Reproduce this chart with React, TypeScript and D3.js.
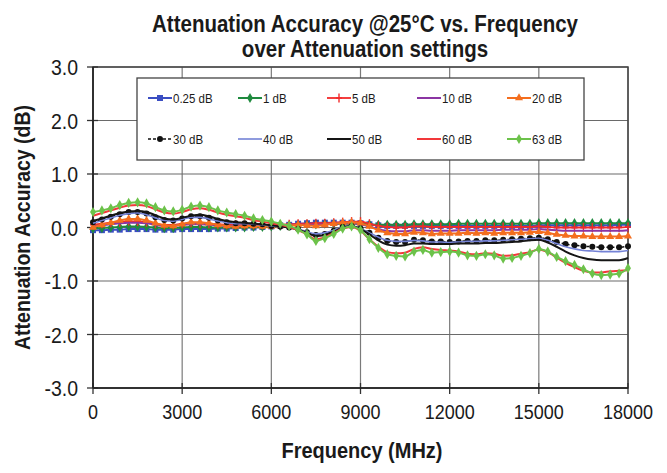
import React from "react";
import * as d3 from "d3";

const TITLE_LINES = ["Attenuation Accuracy @25°C vs. Frequency", "over Attenuation settings"];
const X_TITLE = "Frequency (MHz)";
const Y_TITLE = "Attenuation Accuracy (dB)";
const X_TICKS = [0, 3000, 6000, 9000, 12000, 15000, 18000];
const Y_TICKS = [3, 2, 1, 0, -1, -2, -3];

const FREQ = [
  0, 300, 600, 900, 1200, 1500, 1800, 2100, 2400, 2700, 3000, 3300, 3600, 3900, 4200, 4500, 4800, 5100, 5400, 5700,
  6000, 6300, 6600, 6900, 7200, 7500, 7800, 8100, 8400, 8700, 9000, 9300, 9600, 9900, 10200, 10500, 10800, 11100,
  11400, 11700, 12000, 12300, 12600, 12900, 13200, 13500, 13800, 14100, 14400, 14700, 15000, 15300, 15600, 15900,
  16200, 16500, 16800, 17100, 17400, 17700, 18000,
];

const S_025 = [
  -0.05, -0.05, -0.04, -0.04, -0.03, -0.03, -0.03, -0.04, -0.04, -0.04, -0.03, -0.03, -0.03, -0.03, -0.02, -0.02, -0.01, 0.0, 0.0, 0.01,
  0.02, 0.04, 0.05, 0.07, 0.08, 0.09, 0.09, 0.09, 0.09, 0.09, 0.08, 0.06, 0.04, 0.03, 0.03, 0.03, 0.03, 0.03, 0.03, 0.03,
  0.03, 0.03, 0.03, 0.03, 0.03, 0.03, 0.03, 0.03, 0.03, 0.03, 0.04, 0.04, 0.04, 0.04, 0.04, 0.04, 0.04, 0.04, 0.04, 0.05, 0.05,
];
const S_1 = [
  -0.02, -0.01, 0.0, 0.01, 0.02, 0.02, 0.01, 0.0, -0.01, -0.01, 0.0, 0.01, 0.01, 0.0, 0.0, 0.0, 0.0, 0.0, 0.01, 0.01,
  0.02, 0.03, 0.04, 0.05, 0.06, 0.06, 0.07, 0.07, 0.07, 0.07, 0.07, 0.06, 0.05, 0.05, 0.05, 0.05, 0.06, 0.06, 0.06, 0.06,
  0.06, 0.07, 0.07, 0.07, 0.07, 0.07, 0.07, 0.07, 0.07, 0.07, 0.08, 0.08, 0.08, 0.08, 0.08, 0.08, 0.08, 0.08, 0.08, 0.08, 0.08,
];
const S_5 = [
  0.05, 0.07, 0.09, 0.1, 0.12, 0.11, 0.1, 0.07, 0.05, 0.05, 0.07, 0.09, 0.08, 0.07, 0.06, 0.05, 0.05, 0.05, 0.05, 0.05,
  0.05, 0.05, 0.06, 0.07, 0.07, 0.08, 0.08, 0.09, 0.1, 0.11, 0.11, 0.07, 0.03, 0.01, 0.0, 0.0, 0.02, 0.02, 0.01, 0.01,
  0.01, 0.01, 0.01, 0.01, 0.01, 0.01, 0.01, 0.01, 0.01, 0.01, 0.02, 0.01, 0.0, 0.0, 0.0, 0.0, 0.0, 0.0, 0.0, 0.0, 0.01,
];
const S_10 = [
  0.02, 0.04, 0.06, 0.08, 0.09, 0.09, 0.08, 0.05, 0.03, 0.03, 0.05, 0.06, 0.06, 0.05, 0.04, 0.03, 0.03, 0.03, 0.03, 0.03,
  0.03, 0.04, 0.05, 0.05, 0.05, 0.05, 0.06, 0.07, 0.08, 0.08, 0.06, 0.02, -0.03, -0.06, -0.07, -0.07, -0.05, -0.05, -0.06, -0.06,
  -0.06, -0.05, -0.05, -0.05, -0.05, -0.05, -0.04, -0.04, -0.04, -0.04, -0.03, -0.04, -0.05, -0.06, -0.06, -0.06, -0.06, -0.06, -0.06, -0.06, -0.05,
];
const S_20 = [
  0.0, 0.05, 0.09, 0.13, 0.16, 0.16, 0.13, 0.08, 0.04, 0.03, 0.06, 0.1, 0.1, 0.08, 0.05, 0.03, 0.02, 0.03, 0.03, 0.02,
  0.02, 0.03, 0.04, 0.05, 0.04, 0.03, 0.05, 0.07, 0.09, 0.1, 0.08, 0.02, -0.05, -0.1, -0.12, -0.12, -0.09, -0.1, -0.12, -0.11,
  -0.11, -0.11, -0.1, -0.11, -0.1, -0.11, -0.1, -0.1, -0.1, -0.09, -0.08, -0.1, -0.13, -0.15, -0.16, -0.16, -0.17, -0.17, -0.17, -0.17, -0.16,
];
const S_30 = [
  0.1, 0.15, 0.2, 0.25, 0.29, 0.29, 0.26, 0.19, 0.14, 0.13, 0.17, 0.21, 0.21, 0.18, 0.13, 0.1, 0.08, 0.08, 0.07, 0.06,
  0.03, 0.02, 0.0, -0.03, -0.09, -0.14, -0.12, -0.06, 0.01, 0.03, -0.02, -0.1, -0.19, -0.25, -0.27, -0.27, -0.23, -0.24, -0.26, -0.26,
  -0.27, -0.26, -0.25, -0.25, -0.24, -0.24, -0.23, -0.22, -0.21, -0.2, -0.19, -0.22, -0.27, -0.31, -0.33, -0.35, -0.36, -0.37, -0.37, -0.37, -0.35,
];
const S_40 = [
  0.08, 0.13, 0.18, 0.23, 0.26, 0.27, 0.24, 0.18, 0.13, 0.12, 0.15, 0.19, 0.19, 0.16, 0.12, 0.09, 0.07, 0.07, 0.06, 0.05,
  0.03, 0.02, 0.0, -0.03, -0.08, -0.12, -0.1, -0.05, 0.01, 0.03, -0.02, -0.1, -0.18, -0.24, -0.26, -0.26, -0.24, -0.25, -0.27, -0.27,
  -0.28, -0.27, -0.26, -0.26, -0.25, -0.25, -0.24, -0.23, -0.22, -0.21, -0.2, -0.24, -0.3, -0.36, -0.4, -0.43, -0.44, -0.45, -0.45, -0.45, -0.43,
];
const S_50 = [
  0.12, 0.17, 0.22, 0.27, 0.3, 0.31, 0.29, 0.23, 0.17, 0.15, 0.18, 0.22, 0.24, 0.21, 0.16, 0.12, 0.1, 0.09, 0.07, 0.06,
  0.04, 0.02, 0.0, -0.04, -0.1, -0.16, -0.14, -0.08, 0.0, 0.03, -0.03, -0.13, -0.24, -0.32, -0.34, -0.33, -0.3, -0.3, -0.31, -0.31,
  -0.31, -0.3, -0.3, -0.3, -0.29, -0.29, -0.28, -0.27, -0.26, -0.24, -0.23, -0.28, -0.36, -0.45, -0.52, -0.57, -0.6, -0.61, -0.61, -0.61, -0.57,
];
const S_60 = [
  0.22, 0.27, 0.32, 0.37, 0.41, 0.42, 0.4, 0.34, 0.28, 0.26, 0.29, 0.34, 0.36, 0.33, 0.28, 0.24, 0.21, 0.18, 0.14, 0.11,
  0.08, 0.05, 0.01, -0.05, -0.13, -0.22, -0.18, -0.1, -0.02, 0.01, -0.06, -0.22, -0.36, -0.46, -0.48, -0.47, -0.4, -0.37, -0.4, -0.42,
  -0.43, -0.45, -0.49, -0.5, -0.48, -0.49, -0.53, -0.52, -0.49, -0.46, -0.41, -0.46, -0.56, -0.66, -0.74, -0.81, -0.84, -0.84, -0.82, -0.81, -0.8,
];
const S_63 = [
  0.29, 0.32, 0.36, 0.42, 0.46, 0.47, 0.45, 0.38, 0.32, 0.3, 0.33, 0.39, 0.41, 0.38, 0.32, 0.28, 0.25, 0.22, 0.17, 0.14,
  0.11, 0.07, 0.03, -0.04, -0.13, -0.25, -0.2, -0.12, -0.02, 0.02, -0.05, -0.22, -0.38, -0.5, -0.53, -0.54, -0.45, -0.42, -0.47, -0.46,
  -0.45, -0.47, -0.52, -0.53, -0.5, -0.52, -0.58, -0.57, -0.53, -0.48, -0.4, -0.45, -0.55, -0.63, -0.7, -0.78, -0.86, -0.89, -0.88, -0.86, -0.76,
];

const SERIES_NAMES = ["0.25 dB", "1 dB", "5 dB", "10 dB", "20 dB", "30 dB", "40 dB", "50 dB", "60 dB", "63 dB"];
const SERIES_VALUES = [S_025, S_1, S_5, S_10, S_20, S_30, S_40, S_50, S_60, S_63];

type Style = { color: string; width: number; dash?: string; marker: string };
const STYLES: Style[] = [
  { color: "#3b4ec2", width: 2, marker: "square" },
  { color: "#1f8a3e", width: 2, marker: "diamond" },
  { color: "#f22a2a", width: 1.8, marker: "plus" },
  { color: "#8b35a3", width: 2, marker: "none" },
  { color: "#f46e1e", width: 2, marker: "triangle" },
  { color: "#111111", width: 1.5, dash: "3,2", marker: "circle" },
  { color: "#7482d6", width: 1.6, marker: "none" },
  { color: "#151515", width: 2, marker: "none" },
  { color: "#f2383a", width: 2, marker: "none" },
  { color: "#6cc24a", width: 2, marker: "diamond" },
];

const W = 667;
const H = 473;
const M = { left: 93, right: 628, top: 67, bottom: 388 };
const FONT = "'Liberation Sans', Arial, sans-serif";
const STRETCH = 1.14;

function Marker({ kind, x, y, color }: { kind: string; x: number; y: number; color: string }) {
  if (kind === "square") return <rect x={x - 3} y={y - 3} width={6} height={6} fill={color} />;
  if (kind === "diamond")
    return <path d={d3.symbol(d3.symbolDiamond, 30)() || ""} transform={`translate(${x},${y})`} fill={color} />;
  if (kind === "triangle")
    return <path d={d3.symbol(d3.symbolTriangle, 28)() || ""} transform={`translate(${x},${y})`} fill={color} />;
  if (kind === "circle") return <circle cx={x} cy={y} r={3} fill={color} />;
  if (kind === "plus")
    return (
      <g stroke={color} strokeWidth={1.4}>
        <line x1={x} x2={x} y1={y - 4.5} y2={y + 4.5} />
        <line x1={x - 3} x2={x + 3} y1={y} y2={y} />
      </g>
    );
  return null;
}

function T(props: {
  x: number;
  y: number;
  size: number;
  anchor?: string;
  bold?: boolean;
  rotate?: number;
  children: React.ReactNode;
}) {
  const { x, y, size, anchor, bold, rotate, children } = props;
  const tr = `translate(${x},${y})${rotate ? ` rotate(${rotate})` : ""} scale(1,${STRETCH})`;
  return (
    <text
      transform={tr}
      textAnchor={anchor || "start"}
      fontSize={size}
      fontWeight={bold ? "bold" : "normal"}
      fill="#1a1a1a"
    >
      {children}
    </text>
  );
}

export default function App() {
  const x = d3.scaleLinear().domain([0, 18000]).range([M.left, M.right]);
  const y = d3.scaleLinear().domain([-3, 3]).range([M.bottom, M.top]);
  const line = d3
    .line<number>()
    .x((_, i) => x(FREQ[i]))
    .y((d) => y(d))
    .curve(d3.curveMonotoneX);

  const legendCols = [148, 238, 327, 417, 507];
  const legendRows = [98, 139];

  return (
    <svg width={W} height={H} style={{ position: "absolute", left: 0, top: 0, background: "#fff" }} fontFamily={FONT}>
      <rect x={0} y={0} width={W} height={H} fill="#fff" />
      {TITLE_LINES.map((t, i) => (
        <T key={t} x={365} y={32 + i * 25} size={20.5} anchor="middle" bold>
          {t}
        </T>
      ))}
      {X_TICKS.map((t) => (
        <line key={"gx" + t} x1={x(t)} x2={x(t)} y1={M.top} y2={M.bottom} stroke="#7a7a7a" strokeWidth={1.2} />
      ))}
      {Y_TICKS.map((t) => (
        <line key={"gy" + t} x1={M.left} x2={M.right} y1={y(t)} y2={y(t)} stroke="#6a6a6a" strokeWidth={1.2} />
      ))}
      <rect x={M.left} y={M.top} width={M.right - M.left} height={M.bottom - M.top} fill="none" stroke="#444" strokeWidth={1.5} />
      {Y_TICKS.map((t) => (
        <g key={"ty" + t}>
          <line x1={M.left - 6} x2={M.left + 5} y1={y(t)} y2={y(t)} stroke="#333" strokeWidth={1.3} />
          <T x={78} y={y(t) + 8} size={19.5} anchor="end">
            {t.toFixed(1)}
          </T>
        </g>
      ))}
      {X_TICKS.map((t) => (
        <g key={"tx" + t}>
          <line x1={x(t)} x2={x(t)} y1={M.bottom - 5} y2={M.bottom + 6} stroke="#333" strokeWidth={1.3} />
          <T x={x(t)} y={419} size={18} anchor="middle">
            {t}
          </T>
        </g>
      ))}
      <line x1={M.left} x2={M.left} y1={M.top} y2={M.bottom} stroke="#222" strokeWidth={1.5} />
      <line x1={M.left} x2={M.right} y1={M.bottom} y2={M.bottom} stroke="#222" strokeWidth={1.5} />
      {SERIES_VALUES.map((vals, si) => {
        const st = STYLES[si];
        return (
          <g key={SERIES_NAMES[si]}>
            <path d={line(vals) || ""} fill="none" stroke={st.color} strokeWidth={st.width} strokeDasharray={st.dash} />
            {st.marker !== "none" &&
              vals.map((v, i) => <Marker key={i} kind={st.marker} x={x(FREQ[i])} y={y(v)} color={st.color} />)}
          </g>
        );
      })}
      <rect x={137} y={78} width={447} height={82} fill="#fff" stroke="#444" strokeWidth={1.3} />
      {SERIES_NAMES.map((name, i) => {
        const cx = legendCols[i % 5];
        const cy = legendRows[Math.floor(i / 5)];
        const st = STYLES[i];
        return (
          <g key={"lg" + name}>
            <line x1={cx} x2={cx + 24} y1={cy} y2={cy} stroke={st.color} strokeWidth={st.width} strokeDasharray={st.dash} />
            <Marker kind={st.marker} x={cx + 12} y={cy} color={st.color} />
            <T x={cx + 25} y={cy + 4.5} size={11.5}>
              {name}
            </T>
          </g>
        );
      })}
      <T x={362} y={458} size={20} anchor="middle" bold>
        {X_TITLE}
      </T>
      <T x={30} y={(M.top + M.bottom) / 2} size={19.5} anchor="middle" bold rotate={-90}>
        {Y_TITLE}
      </T>
    </svg>
  );
}
